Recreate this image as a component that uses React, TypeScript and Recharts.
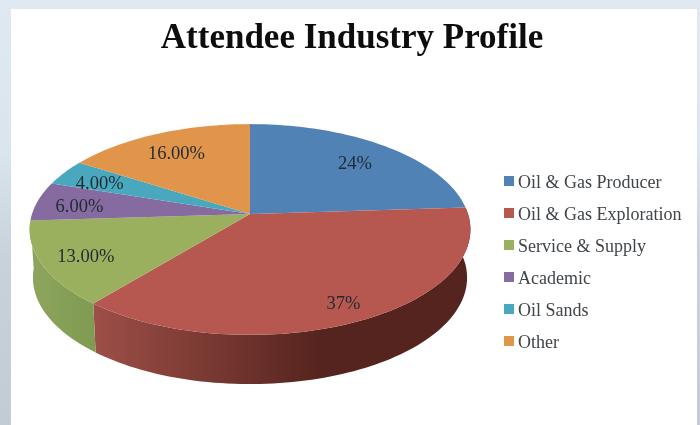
import React from "react";
import { PieChart, Pie, Legend } from "recharts";

const categories = ["Oil & Gas Producer", "Oil & Gas Exploration", "Service & Supply", "Academic", "Oil Sands", "Other"];
const shares = [24, 37, 13, 6, 4, 16];
const sliceLabels = ["24%", "37%", "13.00%", "6.00%", "4.00%", "16.00%"];

const colors = ["#5182b6", "#b75850", "#9bb05e", "#866ba0", "#4aa8be", "#e0954a"];
const wallFills = ["#3d638c", "url(#redWall)", "url(#greenWall)", "#66507a", "#37808f", "#ab7238"];
const labelRadii = [0.76, 0.84, 0.8, 0.8, 0.8, 0.77];

const rows = categories.map((name, i) => ({ name, value: shares[i], fill: colors[i] }));

const FONT = "'Liberation Serif', serif";
const CX = 250;
const CY = 214;
const R = 218;
const TILT = 0.473; // vertical squash of the disc
const PERSP = 0.147; // far edge shrinks, near edge grows

const project = (deg: number, r: number) => {
  const a = (deg * Math.PI) / 180;
  const u = r * Math.cos(a);
  const v = r * Math.sin(a);
  const d = 1 + PERSP * v;
  return { x: CX + (R * u) / d, y: CY - (R * TILT * v) / d };
};

const rim = (start: number, end: number) => {
  const steps = Math.max(2, Math.ceil(Math.abs(end - start) / 1.5));
  const pts = [];
  for (let i = 0; i <= steps; i++) pts.push(project(start + ((end - start) * i) / steps, 1));
  return pts;
};

const lower = (p: { x: number; y: number }) => ({
  x: CX + 0.985 * (p.x - CX),
  y: CY + 48 + 1.01 * (p.y - CY),
});

const toPath = (pts: { x: number; y: number }[]) =>
  "M" + pts.map((p) => `${p.x.toFixed(2)},${p.y.toFixed(2)}`).join("L") + "Z";

const TopSlice = (props: any) => {
  const pts = [{ x: CX, y: CY }, ...rim(props.startAngle, props.endAngle)];
  return <path d={toPath(pts)} fill={props.payload?.fill ?? props.fill} stroke="none" />;
};

const WallSlice = (props: any) => {
  const mid = ((props.startAngle + props.endAngle) / 2) * (Math.PI / 180);
  if (Math.sin(mid) > 0) return <g />; // the far side of the disc shows no wall
  const top = rim(props.startAngle, props.endAngle);
  const bottom = top.map(lower).reverse();
  const idx = categories.indexOf(props.name ?? props.payload?.name);
  return <path d={toPath([...top, ...bottom])} fill={wallFills[idx]} stroke="none" />;
};

const SliceLabel = (props: any) => {
  const i = props.index;
  const p = project(props.midAngle, labelRadii[i]);
  return (
    <text x={p.x} y={p.y + 2} textAnchor="middle" dominantBaseline="central" fontFamily={FONT} fontSize={18.5} fill="#1f2a33">
      {sliceLabels[i]}
    </text>
  );
};

const LegendList = () => (
  <div style={{ fontFamily: FONT }}>
    {rows.map((e) => (
      <div key={e.name} style={{ display: "flex", alignItems: "center", height: 32, color: "#404549", fontSize: 18, whiteSpace: "nowrap" }}>
        <span style={{ width: 10, height: 10, marginRight: 4, marginTop: -3, background: e.fill, display: "inline-block" }} />
        {e.name}
      </div>
    ))}
  </div>
);

export default function App() {
  return (
    <div
      style={{
        position: "absolute",
        left: 0,
        top: 0,
        width: 700,
        height: 425,
        overflow: "hidden",
        background: "linear-gradient(180deg, #e0e9f1 0%, #d9e5ef 35%, #c9d2dc 60%, #c3ccd6 100%)",
      }}
    >
      <div style={{ position: "absolute", left: 11, top: 9, width: 686, height: 416, background: "#ffffff" }} />
      <div style={{ position: "absolute", inset: 0, filter: "blur(0.5px)" }}>
        <div
          style={{
            position: "absolute",
            left: 0,
            width: 704,
            top: 16,
            textAlign: "center",
            fontFamily: FONT,
            fontWeight: 700,
            fontSize: 35,
            lineHeight: "42px",
            color: "#0d0d0d",
          }}
        >
          Attendee Industry Profile
        </div>
        <PieChart width={700} height={425} margin={{ top: 0, right: 0, bottom: 0, left: 0 }} style={{ position: "absolute", left: 0, top: 0 }}>
          <defs>
            <linearGradient id="redWall" gradientUnits="userSpaceOnUse" x1={97} y1={0} x2={320} y2={0}>
              <stop offset="0%" stopColor="#9c4e47" />
              <stop offset="100%" stopColor="#56241e" />
            </linearGradient>
            <linearGradient id="greenWall" gradientUnits="userSpaceOnUse" x1={30} y1={0} x2={97} y2={0}>
              <stop offset="0%" stopColor="#8ea55d" />
              <stop offset="100%" stopColor="#7f9a52" />
            </linearGradient>
          </defs>
          <Pie
            data={rows}
            dataKey="value"
            nameKey="name"
            cx={CX}
            cy={CY}
            outerRadius={R}
            startAngle={90}
            endAngle={-270}
            legendType="none"
            stroke="none"
            shape={WallSlice}
            isAnimationActive={false}
          />
          <Pie
            data={rows}
            dataKey="value"
            nameKey="name"
            cx={CX}
            cy={CY}
            outerRadius={R}
            startAngle={90}
            endAngle={-270}
            stroke="none"
            shape={TopSlice}
            label={SliceLabel}
            labelLine={false}
            isAnimationActive={false}
          />
          <Legend
            layout="vertical"
            content={LegendList}
            wrapperStyle={{ position: "absolute", left: 504, top: 166, width: 190, bottom: "auto", right: "auto" }}
          />
        </PieChart>
      </div>
    </div>
  );
}
